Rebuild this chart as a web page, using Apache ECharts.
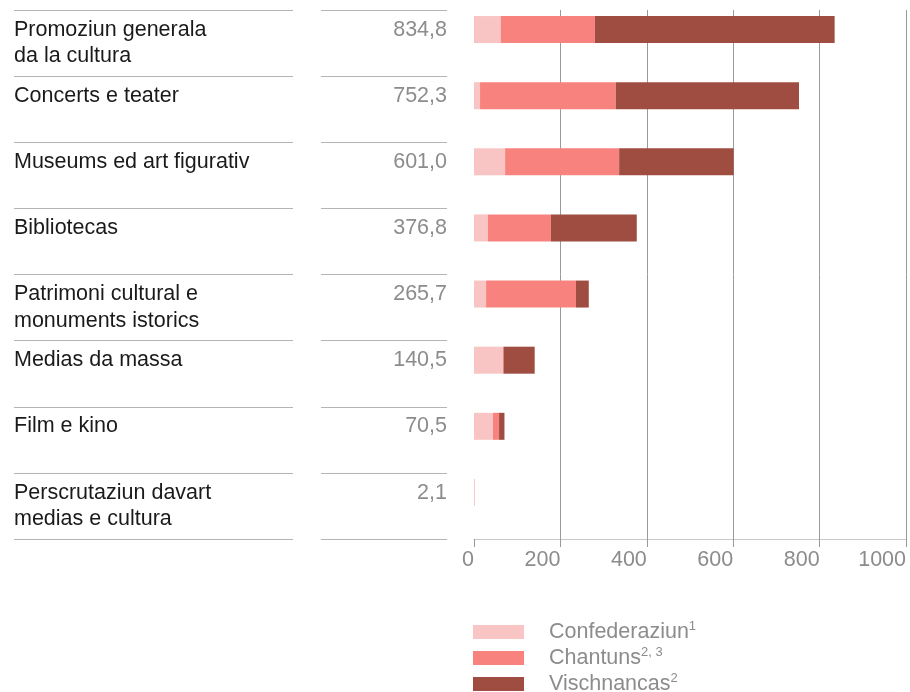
<!DOCTYPE html>
<html>
<head>
<meta charset="utf-8">
<script src="https://cdn.jsdelivr.net/npm/echarts@6/dist/echarts.min.js"></script>
<style>html,body{margin:0;padding:0;background:#fff}#c{width:910px;height:692px}</style>
</head>
<body>
<div id="c"></div>
<script>
const categories = [
  "Promoziun generala\nda la cultura",
  "Concerts e teater",
  "Museums ed art figurativ",
  "Bibliotecas",
  "Patrimoni cultural e\nmonuments istorics",
  "Medias da massa",
  "Film e kino",
  "Perscrutaziun davart\nmedias e cultura"
];
const totals = [834.8, 752.3, 601.0, 376.8, 265.7, 140.5, 70.5, 2.1];
const confederaziun = [62, 14, 72, 32, 28, 67, 44, 2.1];
const chantuns = [218, 314, 264, 146, 208, 1.5, 14, 0];
const vischnancas = [554.8, 424.3, 265, 198.8, 29.7, 72, 12.5, 0];
const xTicks = [0, 200, 400, 600, 800, 1000];
const seriesNames = ["Confederaziun", "Chantuns", "Vischnancas"];
const superscripts = {"Confederaziun": "1", "Chantuns": "2, 3", "Vischnancas": "2"};

const FONT = "'Liberation Sans', Arial, sans-serif";
const GREY = '#8c8c8c';
const LINE = '#b4b4b4';
const colors = ['#f9c4c4', '#f8837e', '#9f4d40'];
const TOP = 10, H = 529;
const FS = 21.5;

const pad2 = v => v.indexOf('\n') >= 0 ? v : v + '\n ';
const fmtNum = v => v.toFixed(1).replace('.', ',');

const chart = echarts.init(document.getElementById('c'), null, {renderer: 'canvas'});
const data = [confederaziun, chantuns, vischnancas];

const option = {
  animation: false,
  textStyle: {fontFamily: FONT},
  grid: [
    {left: 14, top: TOP, width: 279, height: H},
    {left: 321, top: TOP, width: 126, height: H},
    {left: 474, top: TOP, width: 432, height: H}
  ],
  xAxis: [
    {gridIndex: 0, type: 'value', show: false},
    {gridIndex: 1, type: 'value', show: false},
    {
      gridIndex: 2, type: 'value', min: xTicks[0], max: xTicks[xTicks.length - 1], interval: 200,
      axisLine: {show: true, lineStyle: {color: '#c8c8c8', width: 1}},
      axisTick: {show: true, length: 8, lineStyle: {color: '#999'}},
      splitLine: {show: true, showMinLine: false, lineStyle: {color: '#9a9a9a', width: 1}},
      axisLabel: {color: GREY, fontSize: FS, align: 'right', margin: 10, fontFamily: FONT,
        formatter: v => String(v)}
    }
  ],
  yAxis: [
    {
      gridIndex: 0, type: 'category', inverse: true, data: categories,
      axisLine: {show: false}, axisTick: {show: false},
      splitLine: {show: true, lineStyle: {color: LINE, width: 1}},
      axisLabel: {inside: true, margin: 0, align: 'left', color: '#1a1a1a', fontSize: FS,
        lineHeight: 26.5, fontFamily: FONT, formatter: pad2}
    },
    {
      gridIndex: 1, type: 'category', inverse: true, position: 'right',
      data: totals.map(fmtNum),
      axisLine: {show: false}, axisTick: {show: false},
      splitLine: {show: true, lineStyle: {color: LINE, width: 1}},
      axisLabel: {inside: true, margin: 0, align: 'right', color: GREY, fontSize: FS,
        lineHeight: 26.5, fontFamily: FONT, formatter: pad2}
    },
    {
      gridIndex: 2, type: 'category', inverse: true, data: categories,
      axisLine: {show: false}, axisTick: {show: false}, axisLabel: {show: false},
      splitLine: {show: false}
    }
  ],
  legend: {
    data: seriesNames,
    orient: 'vertical',
    left: 473, top: 620, height: 90, padding: 0,
    itemWidth: 51, itemHeight: 14, itemGap: 2,
    icon: 'rect',
    selectedMode: false,
    formatter: name => name + '{sup|' + superscripts[name] + '}',
    textStyle: {
      color: GREY, fontSize: FS, fontFamily: FONT, lineHeight: 24,
      padding: [0, 0, 0, 20],
      rich: {sup: {fontSize: 13, color: GREY, verticalAlign: 'top', lineHeight: 24, fontFamily: FONT}}
    }
  },
  series: seriesNames.map((n, i) => ({
    name: n, type: 'bar', stack: 'total', xAxisIndex: 2, yAxisIndex: 2,
    barWidth: 27, barGap: '0%', itemStyle: {color: colors[i]},
    data: data[i]
  })).concat([{
    name: 'pad', type: 'bar', stack: 'pad', xAxisIndex: 2, yAxisIndex: 2,
    barWidth: 27, barGap: '0%', itemStyle: {color: 'rgba(0,0,0,0)'},
    data: categories.map(() => 0), silent: true
  }])
};
chart.setOption(option);
</script>
</body>
</html>
